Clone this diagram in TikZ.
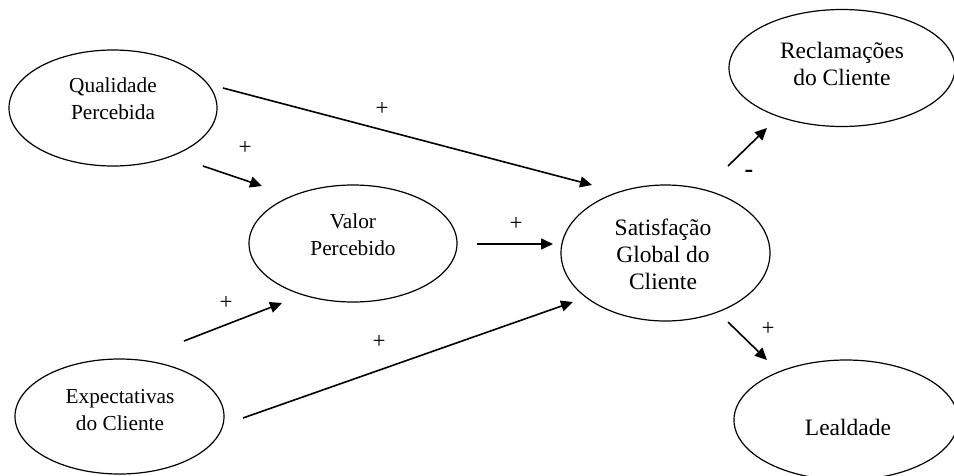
\documentclass[tikz,border=0pt]{standalone}
\usepackage{fontspec}
\setmainfont{Liberation Serif}
\usetikzlibrary{shapes.geometric,arrows.meta}
\tikzset{
  oval/.style={draw, ellipse, line width=1.2pt, inner sep=0pt},
  lbl/.style={align=center, font=\fontsize{21.3}{27}\selectfont, inner sep=0pt},
  lblb/.style={align=center, font=\fontsize{23.5}{27}\selectfont, inner sep=0pt},
  sgn/.style={font=\fontsize{23}{25}\selectfont, inner sep=0pt},
  link/.style={line width=1.6pt, -{Triangle[length=12pt,width=11pt]}}
}
\begin{document}
\begin{tikzpicture}[x=1pt,y=-1pt]
\useasboundingbox (0,0) rectangle (954,475);
% ellipses
\node[oval, minimum width=208pt, minimum height=116pt] (q) at (113,108) {};
\node[oval, minimum width=208pt, minimum height=117pt] (v) at (353,243.5) {};
\node[oval, minimum width=209pt, minimum height=115pt] (e) at (119.5,416.5) {};
\node[oval, minimum width=209pt, minimum height=136pt] (s) at (665.5,253) {};
\node[oval, minimum width=226pt, minimum height=117pt] (r) at (842,68) {};
\node[oval, minimum width=224pt, minimum height=120pt] (l) at (846,420) {};
% texts
\node[lbl] (qt) at (113,98.5) {Qualidade\\Percebida};
\node[lbl] (vt) at (353,234.5) {Valor\\Percebido};
\node[lbl] (et) at (120,410.5) {Expectativas\\do Cliente};
\node[lblb] (st) at (663,254) {Satisfação\\Global do\\Cliente};
\node[lblb] (rt) at (842,63.5) {Reclamações\\do Cliente};
\node[lblb] (lt) at (848,427) {Lealdade};
% connector ends
\coordinate (a1) at (223,88);  \coordinate (b1) at (592,185);
\coordinate (a2) at (203,166); \coordinate (b2) at (262,186);
\coordinate (a3) at (477,244); \coordinate (b3) at (553,244);
\coordinate (a4) at (184,341); \coordinate (b4) at (282,303);
\coordinate (a5) at (243,418); \coordinate (b5) at (573,302);
\coordinate (a6) at (728,166); \coordinate (b6) at (767,128);
\coordinate (a7) at (728,322); \coordinate (b7) at (767,360);
\draw[link] (a1) -- (b1);
\draw[link] (a2) -- (b2);
\draw[link] (a3) -- (b3);
\draw[link] (a4) -- (b4);
\draw[link] (a5) -- (b5);
\draw[link] (a6) -- (b6);
\draw[link] (a7) -- (b7);
% signs
\node[sgn] (p1) at (382,109) {+};
\node[sgn] (p2) at (245,148) {+};
\node[sgn] (p3) at (516,224) {+};
\node[sgn] (p4) at (226,303) {+};
\node[sgn] (p5) at (379,342) {+};
\node[sgn] (p7) at (768,329) {+};
\node[font=\fontsize{26}{28}\selectfont\bfseries, inner sep=0pt] (m6) at (749,174) {-};
\end{tikzpicture}
\end{document}
